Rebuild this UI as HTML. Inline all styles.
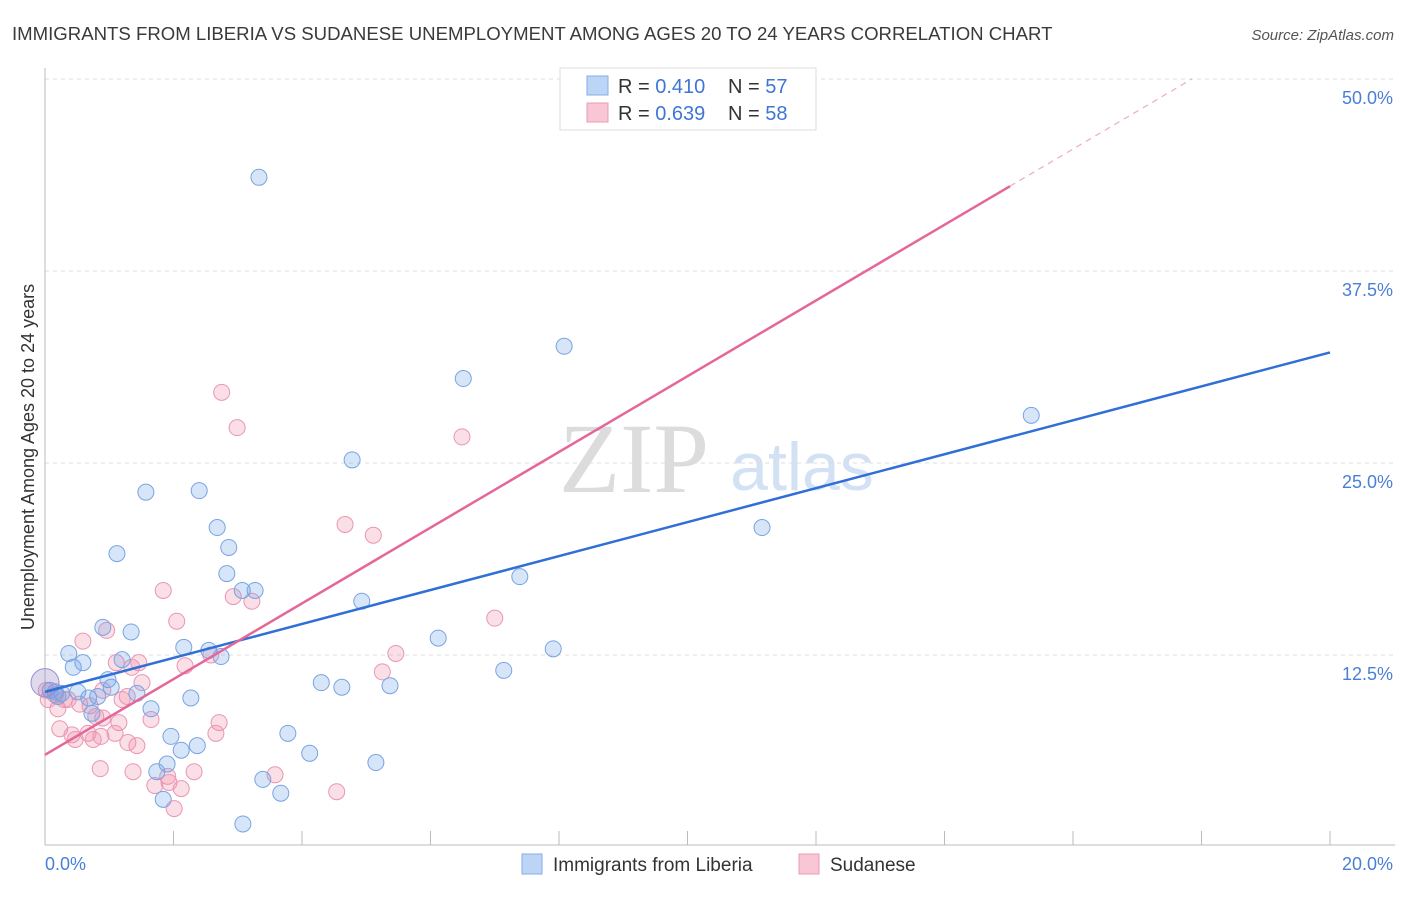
<!DOCTYPE html>
<html><head><meta charset="utf-8"><style>
body{margin:0;background:#fff;font-family:"Liberation Sans",sans-serif;}
svg text{font-family:"Liberation Sans",sans-serif;}
svg text.serif{font-family:"Liberation Serif",serif;}
</style></head><body>
<svg id="chart" width="1406" height="892" xmlns="http://www.w3.org/2000/svg">
<text x="12" y="40" font-size="18.6" fill="#3a3a3a">IMMIGRANTS FROM LIBERIA VS SUDANESE UNEMPLOYMENT AMONG AGES 20 TO 24 YEARS CORRELATION CHART</text>
<text x="1394" y="40" font-size="15" fill="#555" font-style="italic" text-anchor="end">Source: ZipAtlas.com</text>
<text class="serif" x="634" y="492" font-size="100" fill="#dcdcdc" text-anchor="middle">ZIP</text>
<text x="802" y="490" font-size="68" fill="#d3e1f5" text-anchor="middle">atlas</text>
<g id="grid"></g><g id="axes"></g><g id="marks"></g><g id="lines"></g>
<text transform="translate(34,457) rotate(-90)" font-size="18" fill="#333" text-anchor="middle">Unemployment Among Ages 20 to 24 years</text>
<text x="45" y="870" font-size="18" fill="#4a7fd6">0.0%</text>
<text x="1393" y="870" font-size="18" fill="#4a7fd6" text-anchor="end">20.0%</text>
<g>
<rect x="560" y="68" width="256" height="62" fill="#fff" stroke="#ddd"/>
<rect x="587" y="76" width="21" height="19" fill="#bcd4f5" stroke="#86aee6"/>
<rect x="587" y="103" width="21" height="19" fill="#f8c6d5" stroke="#eb9bb5"/>
<text x="618" y="93" font-size="20" fill="#333">R = <tspan fill="#3f76d4">0.410</tspan><tspan x="728">N = </tspan><tspan fill="#3f76d4">57</tspan></text>
<text x="618" y="120" font-size="20" fill="#333">R = <tspan fill="#3f76d4">0.639</tspan><tspan x="728">N = </tspan><tspan fill="#3f76d4">58</tspan></text>
</g>
<g>
<rect x="522" y="854" width="20" height="20" fill="#bcd4f5" stroke="#86aee6"/>
<text x="553" y="871" font-size="19" fill="#333">Immigrants from Liberia</text>
<rect x="799" y="854" width="20" height="20" fill="#f8c6d5" stroke="#eb9bb5"/>
<text x="830" y="871" font-size="19" fill="#333">Sudanese</text>
</g>
</svg>
<script>
const yTicks=[12.5,25.0,37.5,50.0];
const xTicks=[0,2,4,6,8,10,12,14,16,18,20];
const blueX=[3.33,8.08,6.51,15.35,4.78,1.57,2.40,11.16,2.68,2.86,1.12,2.83,7.39,3.07,3.27,4.93,0.90,1.34,6.12,2.16,7.91,0.37,2.55,2.74,0.59,0.44,1.20,7.14,0.98,4.30,4.62,5.37,0.08,0.26,0.51,1.03,1.43,0.82,0.68,2.27,0.20,1.65,0.73,3.78,1.96,4.12,2.37,2.12,5.15,1.90,1.74,3.39,3.67,1.84,3.08,0.16];
const blueY=[43.6,32.6,30.5,28.1,25.2,23.1,23.2,20.8,20.8,19.5,19.1,17.8,17.6,16.7,16.7,16.0,14.3,14.0,13.6,13.0,12.9,12.6,12.8,12.4,12.0,11.7,12.2,11.5,10.9,10.7,10.4,10.5,10.2,10.0,10.1,10.4,10.0,9.8,9.7,9.7,9.8,9.0,8.7,7.4,7.2,6.1,6.6,6.3,5.5,5.4,4.9,4.4,3.5,3.1,1.5,10.1];
const pinkX=[10.13,2.75,2.99,6.49,4.67,5.11,1.84,2.93,3.22,7.00,2.05,0.96,0.59,2.58,5.46,1.11,1.46,2.18,5.25,1.35,1.51,0.90,0.16,0.30,1.28,1.20,0.70,0.05,0.20,0.54,1.65,2.71,1.15,0.79,0.90,0.23,0.42,0.67,0.87,1.09,2.66,0.47,0.75,1.29,1.43,0.86,1.37,2.32,3.58,1.91,1.93,1.71,2.12,4.54,2.01,0.02,0.36];
const pinkY=[47.7,29.6,27.3,26.7,21.0,20.3,16.7,16.3,16.0,14.9,14.7,14.1,13.4,12.5,12.6,12.0,12.0,11.8,11.4,11.7,10.7,10.2,9.9,9.6,9.8,9.6,9.2,9.6,9.0,9.3,8.3,8.1,8.1,8.5,8.4,7.7,7.3,7.4,7.2,7.4,7.4,7.0,7.0,6.8,6.6,5.1,4.9,4.9,4.7,4.6,4.2,4.0,3.8,3.6,2.5,10.2,9.6];
const bigPoint=[0,10.7];
const blueTrend=[10.1,32.2];
const pinkTrend=[6.0,55.3];
const pinkSolidEnd=15.02;
const NS="http://www.w3.org/2000/svg";
const X=v=>45+v*64.25, Y=v=>847-v*15.36;
function mk(tag,attrs,parent){const e=document.createElementNS(NS,tag);for(const k in attrs)e.setAttribute(k,attrs[k]);document.getElementById(parent).appendChild(e);return e;}
yTicks.forEach(t=>{
 const l=mk('line',{x1:45,x2:1395,y1:Y(t),y2:Y(t),stroke:'#ddd','stroke-dasharray':'4,4'},'grid');
 
 
 const tx=mk('text',{x:1393,y:Y(t)+25,'font-size':18,fill:'#4a7fd6','text-anchor':'end'},'grid');
 tx.textContent=t.toFixed(1)+'%';
 
 
});
const ax=mk('line',{x1:45,x2:45,y1:68,y2:845,stroke:'#bbb'},'axes');


const bx=mk('line',{x1:45,x2:1395,y1:845,y2:845,stroke:'#bbb'},'axes');


xTicks.forEach(t=>{
 const l=mk('line',{x1:X(t),x2:X(t),y1:831,y2:845,stroke:'#bbb'},'axes');
 
 
});
function pt(x,y,r,fill,stroke){const c=mk('circle',{cx:X(x),cy:Y(y),r:r,fill:fill,stroke:stroke,'stroke-width':1},'marks');return c;}
pinkX.forEach((x,i)=>{const c=pt(x,pinkY[i],8,'rgba(240,140,170,0.28)','#e996b3');
 
 });
blueX.forEach((x,i)=>{const c=pt(x,blueY[i],8,'rgba(110,160,235,0.28)','#78a4e2');
 
 });
const bp=pt(bigPoint[0],bigPoint[1],14,'rgba(150,130,200,0.3)','#9a8fd0');


const bl=mk('line',{x1:X(0),y1:Y(blueTrend[0]),x2:X(20),y2:Y(blueTrend[1]),stroke:'#2f6fd6','stroke-width':2.5},'lines');


const slope=(pinkTrend[1]-pinkTrend[0])/20;
const ps=mk('line',{x1:X(0),y1:Y(pinkTrend[0]),x2:X(pinkSolidEnd),y2:Y(pinkTrend[0]+slope*pinkSolidEnd),stroke:'#e5679a','stroke-width':2.5},'lines');


const xe=(50-pinkTrend[0])/slope;
const pd=mk('line',{x1:X(pinkSolidEnd),y1:Y(pinkTrend[0]+slope*pinkSolidEnd),x2:X(xe),y2:Y(50),stroke:'#eeaac4','stroke-width':1.2,'stroke-dasharray':'6,5'},'lines');


</script>
</body></html>
